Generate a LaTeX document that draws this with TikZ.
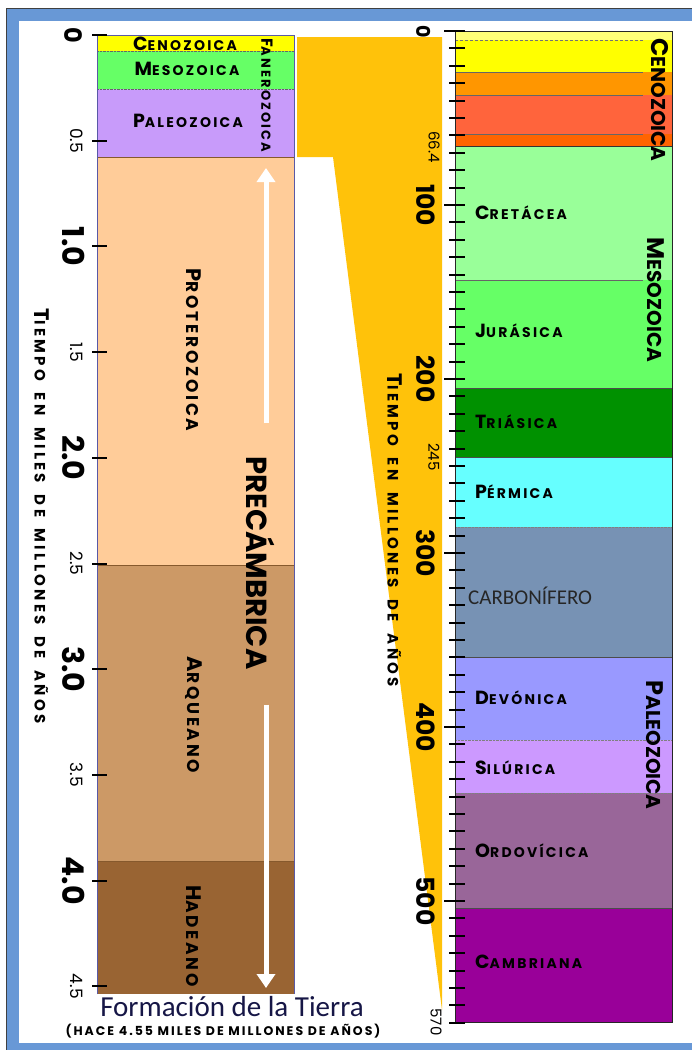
\documentclass[tikz,border=0pt]{standalone}
\usepackage{fontspec}
\setmainfont{Carlito}
\newfontfamily\capsA{Poppins}[LetterSpace=16]
\newfontfamily\capsB{Poppins}[LetterSpace=22,WordSpace=1.8]
\newfontfamily\capsC{Poppins}
\usepackage{tikz}
\usetikzlibrary{arrows.meta}
\definecolor{frameb}{RGB}{104,152,214}
\definecolor{funnel}{RGB}{255,194,10}
\definecolor{cenoL}{RGB}{255,255,0}
\definecolor{mesoL}{RGB}{102,255,102}
\definecolor{paleoL}{RGB}{200,155,250}
\definecolor{protL}{RGB}{255,204,153}
\definecolor{arqL}{RGB}{204,153,102}
\definecolor{hadL}{RGB}{153,100,51}
\definecolor{czA}{RGB}{255,255,120}
\definecolor{czB}{RGB}{255,255,0}
\definecolor{czC}{RGB}{255,150,0}
\definecolor{czD}{RGB}{255,100,60}
\definecolor{czE}{RGB}{255,100,0}
\definecolor{creta}{RGB}{153,255,153}
\definecolor{jura}{RGB}{102,255,102}
\definecolor{tria}{RGB}{0,145,0}
\definecolor{perm}{RGB}{102,255,255}
\definecolor{carb}{RGB}{119,146,180}
\definecolor{devo}{RGB}{153,153,255}
\definecolor{silu}{RGB}{204,153,255}
\definecolor{ordo}{RGB}{153,102,153}
\definecolor{camb}{RGB}{153,0,153}
\definecolor{titleb}{RGB}{22,22,70}
\newcommand{\scap}[2]{{\fontsize{\bsz}{\bsz}\selectfont#1\fontsize{\ssz}{\ssz}\selectfont#2}}

\begin{document}
\begin{tikzpicture}[x=1pt,y=-1pt,
  era/.style={inner sep=0pt,font={\capsA\bfseries\def\bsz{19}\def\ssz{14}}},
  fan/.style={inner sep=0pt,rotate=-90,font={\capsA\bfseries\def\bsz{16}\def\ssz{13}}},
  sub/.style={inner sep=0pt,rotate=-90,font={\capsA\bfseries\def\bsz{21}\def\ssz{17}}},
  vera/.style={inner sep=0pt,rotate=-90,font={\capsC\bfseries\def\bsz{24}\def\ssz{20}}},
  axt/.style={inner sep=0pt,rotate=-90,font={\capsB\bfseries\def\bsz{21}\def\ssz{15}}},
  numbig/.style={inner sep=0pt,rotate=-90,font={\capsC\bfseries\fontsize{30}{30}\selectfont}},
  numsm/.style={inner sep=0pt,rotate=-90,font={\capsC\fontsize{17}{17}\selectfont}},
  numr/.style={inner sep=0pt,rotate=-90,font={\capsC\bfseries\fontsize{25}{25}\selectfont}},
  numrs/.style={inner sep=0pt,rotate=-90,font={\capsC\fontsize{15}{15}\selectfont}},
  warrow/.style={white,line width=5pt,-{Triangle[width=18pt,length=14pt]}},
  tk/.style={line width=2pt}]
  \useasboundingbox (0,0) rectangle (692,1050);
  \fill[frameb] (6,8) rectangle (692,1050);
  \draw[black!75] (6,1050) -- (6,8) -- (692,8);
  \fill[white] (19,21) rectangle (692,1043);
  \fill[funnel] (297,37) -- (442,37) -- (442,1010) -- (333,157) -- (297,157) -- cycle;
  \foreach \ya/\yb/\col in {35/51/cenoL,51/89/mesoL,89/157/paleoL,157/565/protL,565/861/arqL,861/994/hadL}
    \fill[\col] (97,\ya) rectangle (294,\yb);
  \draw[black!60,densely dotted] (97,51) -- (294,51) (97,89) -- (294,89);
  \draw[brown!70!black] (97,157) -- (294,157) (97,565) -- (294,565) (97,861) -- (294,861);
  \draw[gray!70!blue] (97,994) -- (97,35) -- (294,35) -- (294,994);
  \foreach \k in {0,...,9} \draw[tk] (92,35+105.7*\k) -- (107,35+105.7*\k);
  \node[numsm,font={\capsC\bfseries\fontsize{24}{24}\selectfont}] (gl0) at (73.5,35) {0};
  \foreach \k/\t in {2/1.0,4/2.0,6/3.0,8/4.0} \node[numbig] (gl\k) at (74,35+105.7*\k) {\t};
  \foreach \k/\t in {1/0.5,3/1.5,5/2.5,7/3.5,9/4.5} \node[numsm] (gl\k) at (77,35+105.7*\k) {\t};
  \node[axt] (axl) at (42,516) {\scap{T}{IEMPO EN MILES DE MILLONES DE AÑOS}};
  \node[era,anchor=base] (ceno) at (185,50) {\scap{C}{ENOZOICA}};
  \node[era,anchor=base] (meso) at (187,75) {\scap{M}{ESOZOICA}};
  \node[era,anchor=base] (paleo) at (188,127) {\scap{P}{ALEOZOICA}};
  \node[fan] (fanero) at (267,95) {\scap{F}{ANEROZOICA}};
  \node[sub] (prot) at (194,350) {\scap{P}{ROTEROZOICA}};
  \node[sub] (arq) at (194,715) {\scap{A}{RQUEANO}};
  \node[sub] (had) at (194,936) {\scap{H}{ADEANO}};
  \node[inner sep=0pt,rotate=-90,font={\capsC\bfseries\fontsize{29}{29}\selectfont}] (pre) at (261,563) {PRECÁMBRICA};
  \coordinate (upTip) at (266,168);
  \coordinate (dnTip) at (266,988);
  \draw[warrow,shorten <=33pt] (pre.west -| upTip) -- (upTip);
  \draw[warrow,shorten <=35pt] (pre.east -| dnTip) -- (dnTip);
  \node[anchor=base,inner sep=0pt,titleb,font=\fontsize{29}{29}\selectfont] (form) at (232,1016) {Formación de la Tierra};
  \node[anchor=base,inner sep=0pt,font={\capsA\bfseries\fontsize{12.5}{12.5}\selectfont}] (hace) at (223,1035) {(HACE 4.55 MILES DE MILLONES DE AÑOS)};
  \foreach \ya/\yb/\col in {31/40/czA,40/72/czB,72/95/czC,95/134/czD,134/146/czE,146/280/creta,280/388/jura,388/457/tria,457/527/perm,527/657/carb,657/740/devo,740/793/silu,793/908/ordo,908/1022/camb}
    \fill[\col] (455,\ya) rectangle (672,\yb);
  \draw[black!55,densely dashed] (455,40) -- (643,40);
  \draw[black!60] (455,72) -- (643,72) (455,95) -- (643,95) (455,134) -- (643,134) (455,280) -- (643,280);
  \draw[black!80,thick] (455,146) -- (672,146);
  \draw[black!70] (455,388) -- (672,388) (455,457) -- (672,457) (455,657) -- (672,657) (455,908) -- (672,908);
  \draw[black!50,densely dotted] (455,527) -- (672,527) (455,740) -- (672,740) (455,793) -- (672,793);
  \draw[black!85,line width=1pt] (455,31) rectangle (672,1022);
  \foreach \t in {0,10,...,570} {\pgfmathtruncatemacro{\r}{mod(\t,100)}
    \ifnum\r=0 \draw[tk] (444,31+1.74*\t) -- (465,31+1.74*\t);
    \else \draw[tk] (449,31+1.74*\t) -- (465,31+1.74*\t); \fi}
  \node[numrs,font={\capsC\bfseries\fontsize{19}{19}\selectfont}] (mr0) at (424,32) {0};
  \foreach \k in {1,...,5} \node[numr] (mr\k) at (426,31+174*\k) {\k00};
  \node[numrs] (mr66) at (434,147) {66.4};
  \node[numrs] (mr245) at (434,457) {245};
  \node[numrs] (mr570) at (436,1022) {570};
  \node[axt] (axr) at (395,530) {\scap{T}{IEMPO EN MILLONES DE AÑOS}};
  \node[vera] (cenoR) at (660,100) {\scap{C}{ENOZOICA}};
  \node[vera] (mesoR) at (656,300) {\scap{M}{ESOZOICA}};
  \node[vera] (paleoR) at (655,745) {\scap{P}{ALEOZOICA}};
  \foreach \y/\f/\s/\n in {219/C/RETÁCEA/creta,337/J/URÁSICA/jura,428/T/RIÁSICA/tria,498/P/ÉRMICA/perm,704/D/EVÓNICA/devo,774/S/ILÚRICA/silu,857/O/RDOVÍCICA/ordo,968/C/AMBRIANA/camb}
    \node[era,anchor=base west] (l\n) at (475,\y) {\scap{\f}{\s}};
  \node[anchor=base west,inner sep=0pt,black!85,font=\fontsize{21}{21}\selectfont] (lcarb) at (468,604) {CARBONÍFERO};
\end{tikzpicture}
\end{document}
